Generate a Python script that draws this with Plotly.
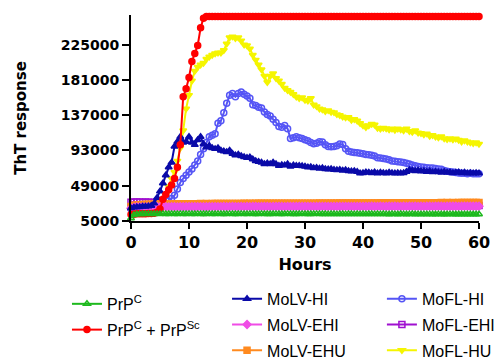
import plotly.graph_objects as go

# Time axis: readings every half hour from 0 to 60 h
hours = [i / 2 for i in range(121)]

prpc = [
    8500, 12500, 13500, 13600, 13800, 13700, 13900, 13800, 13700, 13900,
    13800, 13900, 13700, 13800, 13900, 13800, 13700, 13900, 13800, 13700,
    13900, 13800, 13700, 13900, 13800, 13700, 13800, 13900, 13800, 13700,
    13900, 13800, 13700, 13800, 13900, 13800, 13700, 13800, 13900, 13700,
    13800, 13900, 13800, 13700, 13800, 13900, 13800, 13700, 13800, 13700,
    13900, 13800, 13700, 13800, 13900, 13700, 13800, 13700, 13800, 13900,
    13700, 13800, 13700, 13800, 13900, 13700, 13800, 13700, 13600, 13800,
    13700, 13600, 13800, 13700, 13600, 13700, 13800, 13600, 13700, 13600,
    13700, 13600, 13800, 13700, 13600, 13700, 13600, 13700, 13600, 13500,
    13700, 13600, 13500, 13700, 13600, 13500, 13600, 13700, 13500, 13600,
    13500, 13600, 13500, 13600, 13500, 13400, 13600, 13500, 13400, 13500,
    13600, 13500, 13400, 13500, 13400, 13500, 13400, 13500, 13400, 13500,
    13400,
]

prpc_prpsc = [
    13000, 13500, 14000, 14000, 14200, 14200, 14300, 14500, 14800, 16000,
    20000, 32000, 38000, 44000, 50000, 58000, 72000, 100000, 160000, 170000,
    184000, 204000, 214000, 224000, 246000, 258000, 260000, 260000, 260000, 260000,
    260000, 260000, 260000, 260000, 260000, 260000, 260000, 260000, 260000, 260000,
    260000, 260000, 260000, 260000, 260000, 260000, 260000, 260000, 260000, 260000,
    260000, 260000, 260000, 260000, 260000, 260000, 260000, 260000, 260000, 260000,
    260000, 260000, 260000, 260000, 260000, 260000, 260000, 260000, 260000, 260000,
    260000, 260000, 260000, 260000, 260000, 260000, 260000, 260000, 260000, 260000,
    260000, 260000, 260000, 260000, 260000, 260000, 260000, 260000, 260000, 260000,
    260000, 260000, 260000, 260000, 260000, 260000, 260000, 260000, 260000, 260000,
    260000, 260000, 260000, 260000, 260000, 260000, 260000, 260000, 260000, 260000,
    260000, 260000, 260000, 260000, 260000, 260000, 260000, 260000, 260000, 260000,
    260000,
]

molv_hi = [
    21000, 22000, 22500, 22500, 23000, 23000, 23500, 24000, 27000, 34000,
    42000, 52000, 62000, 72000, 78000, 98000, 104000, 110000, 103000, 104000,
    110000, 103000, 100000, 106000, 110000, 101000, 97000, 99000, 96000, 95000,
    96000, 93000, 92000, 91000, 93000, 89000, 87000, 88000, 86000, 85000,
    84000, 84500, 82000, 80000, 79000, 78000, 76000, 77000, 76000, 78000,
    76000, 74000, 75000, 74500, 76000, 73000, 74500, 74000, 74000, 73500,
    73000, 72000, 72500, 71000, 71500, 70500, 71000, 70000, 69500, 70000,
    69000, 68500, 69000, 68000, 68500, 67500, 67000, 67500, 66500, 64500,
    65000, 66000, 65500, 65000, 66000, 64500, 65500, 65000, 64500, 65500,
    65000, 64500, 65000, 64500, 65000, 66500, 68500, 68000, 67500, 68000,
    67000, 67500, 66500, 67000, 66000, 66500, 66000, 65500, 66500, 65500,
    66000, 65000, 65500, 66000, 65000, 65500, 64500, 65000, 64500, 65000,
    64500,
]

molv_ehi = [
    21000, 22000, 22500, 22500, 22600, 22500, 22700, 22600, 22500, 22700,
    22600, 22800, 22700, 22600, 22800, 22700, 22600, 22800, 22700, 22800,
    22700, 22900, 22800, 22700, 22900, 22800, 22700, 22900, 22800, 22900,
    22800, 22900, 23000, 22800, 22900, 23000, 22900, 22800, 23000, 22900,
    23000, 22900, 23000, 23100, 22900, 23000, 23100, 23000, 22900, 23100,
    23000, 23100, 23000, 22900, 23100, 23000, 23100, 23000, 23100, 23000,
    23100, 23000, 23100, 23200, 23000, 23100, 23200, 23100, 23000, 23200,
    23100, 23200, 23100, 23000, 23200, 23100, 23200, 23100, 23200, 23100,
    23200, 23100, 23200, 23300, 23100, 23200, 23300, 23200, 23100, 23300,
    23200, 23300, 23200, 23100, 23300, 23200, 23300, 23200, 23300, 23200,
    23300, 23200, 23300, 23400, 23200, 23300, 23400, 23300, 23200, 23400,
    23300, 23400, 23300, 23200, 23400, 23300, 23400, 23300, 23400, 23300,
    23400,
]

molv_ehu = [
    23000, 24500, 25000, 25300, 25500, 25600, 25800, 25900, 26000, 26100,
    26200, 26100, 26300, 26200, 26300, 26400, 26300, 26400, 26500, 26400,
    26500, 26600, 26500, 26600, 26700, 26600, 26700, 26600, 26700, 26800,
    26700, 26800, 26700, 26800, 26900, 26800, 26900, 26800, 26900, 27000,
    26900, 27000, 26900, 27000, 27100, 27000, 27100, 27000, 27100, 27000,
    27100, 27200, 27100, 27200, 27100, 27200, 27100, 27200, 27300, 27200,
    27300, 27200, 27300, 27200, 27300, 27400, 27300, 27400, 27300, 27400,
    27300, 27400, 27500, 27400, 27500, 27400, 27500, 27400, 27500, 27600,
    27500, 27600, 27500, 27600, 27500, 27600, 27700, 27600, 27700, 27600,
    27700, 27600, 27700, 27800, 27700, 27800, 27700, 27800, 27700, 27800,
    27900, 27800, 27900, 27800, 27900, 27800, 27900, 28000, 27900, 28000,
    27900, 28000, 27900, 28000, 28100, 28000, 28100, 28000, 28100, 28000,
    28100,
]

mofl_hi = [
    20000, 21000, 21500, 21500, 22000, 22000, 22000, 22500, 22500, 23000,
    23500, 24000, 26000, 30000, 33000, 37000, 45000, 53000, 58000, 62000,
    66000, 70000, 75000, 80000, 88000, 95000, 103000, 110000, 112000, 114000,
    127000, 130000, 140000, 152000, 162000, 164000, 160000, 164000, 166000, 163000,
    161000, 158000, 150000, 149000, 147000, 146000, 141000, 138000, 136000, 132000,
    128000, 123000, 122000, 124000, 120000, 108000, 109000, 110000, 109000, 108000,
    106500, 105000, 103000, 101500, 102000, 104000, 103500, 100000, 98000, 97500,
    98000, 99000, 101000, 100500, 95000, 92000, 91000, 90500, 90000, 89500,
    89000, 88000, 87500, 87000, 86000, 84000, 83500, 83000, 82500, 81500,
    80000, 79500, 79000, 78500, 78000, 77000, 76000, 75000, 74000, 73000,
    72500, 72000, 71500, 71000, 71000, 70500, 70000, 69500, 68000, 67000,
    66500, 66000, 65500, 65000, 64500, 64500, 64000, 64500, 64000, 64000,
    64000,
]

mofl_ehi = [
    28500, 28800, 28600, 28700, 28500, 28600, 28400, 28500, 28200, 27500,
    26000, 24500, 23800, 23500, 23400, 23300, 23400, 23300, 23200, 23300,
    23200, 23300, 23200, 23300, 23400, 23300, 23200, 23300, 23400, 23300,
    23400, 23300, 23400, 23300, 23400, 23500, 23400, 23300, 23400, 23500,
    23400, 23500, 23400, 23500, 23400, 23500, 23600, 23500, 23400, 23500,
    23600, 23500, 23600, 23500, 23600, 23500, 23600, 23700, 23600, 23500,
    23600, 23700, 23600, 23700, 23600, 23700, 23600, 23700, 23800, 23700,
    23600, 23700, 23800, 23700, 23800, 23700, 23800, 23700, 23800, 23900,
    23800, 23700, 23800, 23900, 23800, 23900, 23800, 23900, 23800, 23900,
    24000, 23900, 23800, 23900, 24000, 23900, 24000, 23900, 24000, 23900,
    24000, 24100, 24000, 23900, 24000, 24100, 24000, 24100, 24000, 24100,
    24000, 24100, 24200, 24100, 24000, 24100, 24200, 24100, 24200, 24100,
    24200,
]

mofl_hu = [
    19000, 20000, 20500, 21000, 21000, 21500, 21500, 22000, 22000, 23000,
    25000, 30000, 38000, 48000, 58000, 66000, 80000, 96000, 118000, 145000,
    162000, 180000, 192000, 197000, 200000, 202000, 207000, 210000, 212000, 214000,
    215000, 215000, 218000, 226000, 234000, 235000, 233000, 234000, 230000, 225000,
    224000, 220000, 212000, 206000, 200000, 194000, 186000, 178000, 186000, 189000,
    183000, 180000, 176000, 171000, 168000, 166000, 163000, 160000, 158000, 159000,
    156000, 155000, 158000, 150000, 148000, 145000, 144000, 142000, 143000, 141000,
    140500, 138000, 137000, 135000, 134000, 134500, 131000, 132000, 130000, 127000,
    124000, 122000, 124000, 126000, 125000, 121000, 120000, 121000, 120500, 119000,
    120000, 118500, 120000, 119000, 118000, 120000, 117000, 116000, 118000, 115000,
    114500, 113000, 114000, 111000, 112000, 110000, 109000, 110500, 108000, 107000,
    108000, 106500, 107500, 106000, 104000, 105500, 104000, 103000, 102000, 103000,
    101000,
]

y_tickvals = [5000, 49000, 93000, 137000, 181000, 225000]
y_ticktext = ["5000", "49000", "93000", "137000", "181000", "225000"]
x_tickvals = [0, 10, 20, 30, 40, 50, 60]

# name, values, colour, symbol, legend, rank
series = [
    ("PrP<sup>C</sup>", prpc, "#1DB91D", "triangle-up-open", "legend", 1),
    ("PrP<sup>C</sup> + PrP<sup>Sc</sup>", prpc_prpsc, "#FF0000", "circle", "legend", 2),
    ("MoLV-HI", molv_hi, "#0A0AA8", "triangle-up", "legend2", 3),
    ("MoLV-EHI", molv_ehi, "#F04CE6", "diamond", "legend2", 4),
    ("MoLV-EHU", molv_ehu, "#FF8A1F", "square", "legend2", 5),
    ("MoFL-HI", mofl_hi, "#5555F5", "circle-open", "legend3", 6),
    ("MoFL-EHI", mofl_ehi, "#A010D0", "square-open", "legend3", 7),
    ("MoFL-HU", mofl_hu, "#F5F500", "triangle-down", "legend3", 8),
]

fig = go.Figure()
for name, vals, color, symbol, leg, rank in reversed(series):
    fig.add_trace(go.Scatter(
        x=hours, y=vals, name=name, mode="lines+markers",
        line=dict(color=color, width=2),
        marker=dict(symbol=symbol, size=6, color=color,
                    line=dict(color=color, width=1.5)),
        legend=leg, legendrank=rank, legendgroup=name,
        cliponaxis=False,
    ))

tick_font = dict(family="DejaVu Sans", size=14, color="black", weight="bold")
leg_common = dict(font=dict(family="Arial", size=16, color="black"),
                  bgcolor="rgba(0,0,0,0)", yanchor="top", xanchor="left",
                  tracegroupgap=2, traceorder="grouped")

fig.update_layout(
    width=495, height=360, autosize=False,
    margin=dict(l=131, r=16, t=15, b=139, autoexpand=False),
    plot_bgcolor="white", paper_bgcolor="white",
    xaxis=dict(
        range=[0, 60], tickvals=x_tickvals, showgrid=False, zeroline=False,
        showline=True, linecolor="black", linewidth=2, automargin=False,
        ticks="outside", ticklen=6, tickwidth=2, tickcolor="black",
        tickfont=dict(family="DejaVu Sans", size=16, color="black", weight="bold"),
        title=dict(text="Hours", standoff=8,
                   font=dict(family="DejaVu Sans", size=16, color="black", weight="bold")),
    ),
    yaxis=dict(
        range=[5000, 262000], tickvals=y_tickvals, ticktext=y_ticktext,
        showgrid=False, zeroline=False, automargin=False,
        showline=True, linecolor="black", linewidth=2,
        ticks="outside", ticklen=7, tickwidth=2, tickcolor="black",
        tickfont=tick_font,
        title=dict(text="ThT response", standoff=30,
                   font=dict(family="DejaVu Sans", size=15, color="black", weight="bold")),
    ),
    legend=dict(x=-0.184, y=-0.32, **leg_common),
    legend2=dict(x=0.276, y=-0.295, **leg_common),
    legend3=dict(x=0.721, y=-0.295, **leg_common),
)

fig.write_html("out.html")
